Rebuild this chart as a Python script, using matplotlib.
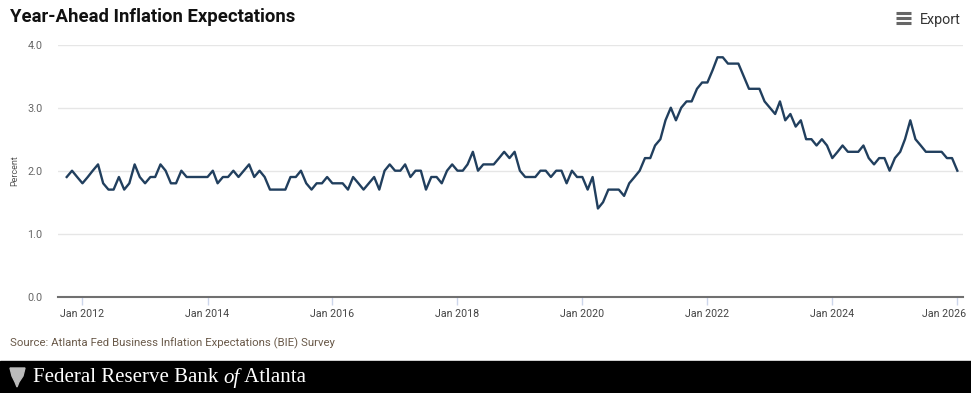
import matplotlib.pyplot as plt
import matplotlib.dates as mdates
import matplotlib.transforms as mtransforms
import pandas as pd
from matplotlib.lines import Line2D
from matplotlib.patches import Rectangle, Polygon

# monthly year-ahead inflation expectations, Oct 2011 .. Jan 2026
start_month = '2011-10-01'
expectations = [
    1.9, 2.0, 1.9, 1.8, 1.9, 2.0, 2.1, 1.8, 1.7, 1.7, 1.9, 1.7, 1.8, 2.1,
    1.9, 1.8, 1.9, 1.9, 2.1, 2.0, 1.8, 1.8, 2.0, 1.9, 1.9, 1.9, 1.9, 1.9,
    2.0, 1.8, 1.9, 1.9, 2.0, 1.9, 2.0, 2.1, 1.9, 2.0, 1.9, 1.7, 1.7, 1.7,
    1.7, 1.9, 1.9, 2.0, 1.8, 1.7, 1.8, 1.8, 1.9, 1.8, 1.8, 1.8, 1.7, 1.9,
    1.8, 1.7, 1.8, 1.9, 1.7, 2.0, 2.1, 2.0, 2.0, 2.1, 1.9, 2.0, 2.0, 1.7,
    1.9, 1.9, 1.8, 2.0, 2.1, 2.0, 2.0, 2.1, 2.3, 2.0, 2.1, 2.1, 2.1, 2.2,
    2.3, 2.2, 2.3, 2.0, 1.9, 1.9, 1.9, 2.0, 2.0, 1.9, 2.0, 2.0, 1.8, 2.0,
    1.9, 1.9, 1.7, 1.9, 1.4, 1.5, 1.7, 1.7, 1.7, 1.6, 1.8, 1.9, 2.0, 2.2,
    2.2, 2.4, 2.5, 2.8, 3.0, 2.8, 3.0, 3.1, 3.1, 3.3, 3.4, 3.4, 3.6, 3.8,
    3.8, 3.7, 3.7, 3.7, 3.5, 3.3, 3.3, 3.3, 3.1, 3.0, 2.9, 3.1, 2.8, 2.9,
    2.7, 2.8, 2.5, 2.5, 2.4, 2.5, 2.4, 2.2, 2.3, 2.4, 2.3, 2.3, 2.3, 2.4,
    2.2, 2.1, 2.2, 2.2, 2.0, 2.2, 2.3, 2.5, 2.8, 2.5, 2.4, 2.3, 2.3, 2.3,
    2.3, 2.2, 2.2, 2.0,
]
tick_years = [2012, 2014, 2016, 2018, 2020, 2022, 2024, 2026]
y_ticks = [0.0, 1.0, 2.0, 3.0, 4.0]

months = pd.date_range(start_month, periods=len(expectations), freq='MS')

plt.rcParams['font.family'] = ['Roboto', 'DejaVu Sans']

W, H = 971, 393
fig = plt.figure(figsize=(W / 100, H / 100), dpi=100)
ax = fig.add_axes([58 / W, 1 - 296.7 / H, 905 / W, 252 / H])

ax.plot(months, expectations, color='#213f5e', lw=1.7, solid_joinstyle='round')

ax.set_ylim(0, 4)
ax.set_xlim(pd.Timestamp('2011-08-11'), pd.Timestamp('2026-02-03'))
ax.set_yticks(y_ticks)
ax.set_yticklabels(['%.1f' % v for v in y_ticks])
ax.set_xticks([pd.Timestamp('%d-01-01' % y) for y in tick_years])
ax.xaxis.set_major_formatter(mdates.DateFormatter('Jan %Y'))

ax.yaxis.grid(True, color='#e6e6e6', lw=1)
ax.set_axisbelow(True)
for s in ['top', 'right', 'left']:
    ax.spines[s].set_visible(False)
ax.spines['bottom'].set_color('#707070')
ax.spines['bottom'].set_linewidth(1.5)
ax.tick_params(axis='x', length=6, width=1, color='#ccd6eb', pad=2.5,
               labelsize=7.7, labelcolor='#444444')
ax.tick_params(axis='y', length=0, pad=11, labelsize=7.8, labelcolor='#666666')
ax.set_ylabel('Percent', fontsize=6.5, color='#555555', labelpad=6)

# keep the last date label inside the figure, like the original
last = ax.get_xticklabels()[-1]
last.set_ha('right')
last.set_transform(last.get_transform() +
                   mtransforms.ScaledTranslation(9 / 100, 0, fig.dpi_scale_trans))

# header
fig.text(10 / W, 1 - 17 / H, 'Year-Ahead Inflation Expectations', fontsize=13.3,
         fontweight='bold', color='#111111', va='center', ha='left')
for yy in [13, 18, 23]:
    fig.add_artist(Line2D([896 / W, 911 / W], [1 - yy / H, 1 - yy / H],
                          color='#666666', lw=2.2, solid_capstyle='butt'))
fig.text(920 / W, 1 - 20 / H, 'Export', fontsize=10.3, color='#333333',
         va='center', ha='left')

# source
fig.text(10 / W, 1 - 343 / H,
         'Source: Atlanta Fed Business Inflation Expectations (BIE) Survey',
         fontsize=8.2, color='#6a5a4a', va='center', ha='left')

# footer band
fig.add_artist(Rectangle((0, 0), 1, 32 / H, transform=fig.transFigure,
                         color='black', zorder=0))
logo = [(10, 368), (25, 368), (23, 376), (19, 382), (17, 387), (15, 382), (12, 376)]
fig.add_artist(Polygon([(x / W, 1 - y / H) for x, y in logo], closed=True,
                       transform=fig.transFigure, color='#bbbbbb'))

fig.canvas.draw()
r = fig.canvas.get_renderer()
xpos = 33
for txt, style in [('Federal Reserve Bank ', 'normal'), ('of', 'italic'),
                   (' Atlanta', 'normal')]:
    t = fig.text(xpos / W, 1 - 378 / H, txt, fontsize=15, color='white',
                 family='Liberation Serif', style=style, va='center', ha='left')
    xpos += t.get_window_extent(r).width

fig.savefig('out.png', dpi=100)
